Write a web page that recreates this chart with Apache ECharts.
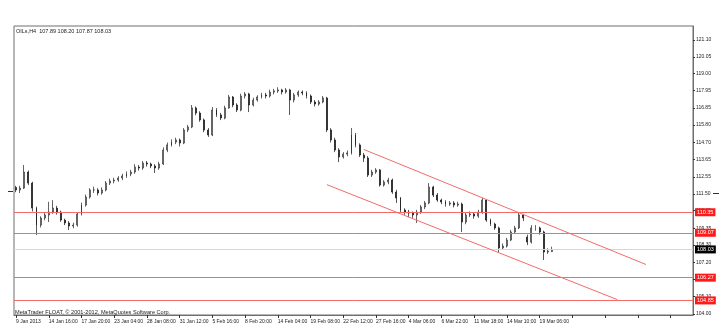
<!DOCTYPE html>
<html><head><meta charset="utf-8">
<script src="https://cdn.jsdelivr.net/npm/echarts@6/dist/echarts.min.js"></script>
<style>html,body{margin:0;padding:0;background:#fff}#c{width:723px;height:332px}</style>
</head><body><div id="c"></div>
<script>
// x-axis tick labels (one every 8 bars)
const xLabels = ["9 Jan 2013","14 Jan 16:00","17 Jan 20:00","23 Jan 04:00","28 Jan 08:00","31 Jan 12:00","5 Feb 16:00","8 Feb 20:00","14 Feb 04:00","19 Feb 08:00","22 Feb 12:00","27 Feb 16:00","4 Mar 06:00","6 Mar 22:00","11 Mar 18:00","14 Mar 10:00","19 Mar 06:00"];
// y-axis tick labels
const yLabels = [104.00,105.10,106.15,107.20,108.30,109.35,110.45,111.50,112.55,113.65,114.70,115.80,116.85,117.95,119.00,120.05,121.10];
// candles: [open, close, low, high]
const candles = [
[111.90,111.74,111.60,112.00],[111.74,111.86,111.55,112.00],[111.86,112.86,111.80,113.30],[112.86,112.17,112.05,112.95],
[112.17,110.61,110.40,112.25],[110.61,109.55,108.93,110.70],[109.55,109.99,109.40,110.10],[109.99,110.18,109.85,110.30],
[110.18,110.36,109.74,111.00],[110.36,110.61,110.25,111.11],[110.61,110.36,110.20,110.75],[110.36,109.86,109.75,110.45],
[109.86,109.68,109.55,109.95],[109.68,109.49,109.24,109.80],[109.49,109.55,109.35,109.70],[109.55,110.24,109.45,110.35],
[110.24,110.80,110.15,110.95],[110.80,111.30,110.70,111.45],[111.30,111.74,111.20,111.85],[111.74,111.74,111.55,111.95],
[111.74,111.55,111.40,111.85],[111.55,111.74,111.45,111.90],[111.74,112.17,111.65,112.30],[112.17,112.30,112.05,112.45],
[112.30,112.36,112.15,112.50],[112.36,112.49,112.25,112.60],[112.49,112.61,112.35,112.75],[112.61,112.74,112.50,112.90],
[112.74,112.86,112.60,113.00],[112.86,113.17,112.75,113.35],[113.17,113.11,112.95,113.30],[113.11,113.42,113.00,113.55],
[113.42,113.36,113.20,113.55],[113.36,113.24,113.10,113.45],[113.24,113.11,112.80,113.35],[113.11,113.36,113.00,113.50],
[113.36,114.23,113.30,114.40],[114.23,114.55,114.10,114.70],[114.55,114.73,114.45,114.90],[114.73,114.86,114.60,115.00],
[114.86,114.67,114.45,114.95],[114.67,115.48,114.60,115.60],[115.48,115.67,115.35,115.80],[115.67,116.86,115.60,117.04],
[116.86,116.54,116.40,116.95],[116.54,116.11,116.00,116.65],[116.11,115.48,115.35,116.20],[115.48,115.17,115.05,115.60],
[115.17,116.73,115.10,116.92],[116.73,116.42,116.30,116.85],[116.42,116.23,116.10,116.55],[116.23,116.86,116.15,117.00],
[116.86,117.54,116.80,117.67],[117.54,117.04,116.90,117.60],[117.04,116.73,116.60,117.15],[116.73,117.60,116.65,117.75],
[117.60,117.73,117.45,117.85],[117.73,117.04,116.60,117.80],[117.04,117.35,116.95,117.50],[117.35,117.54,117.25,117.65],
[117.54,117.67,117.45,117.80],[117.67,117.60,117.45,117.80],[117.60,117.85,117.50,118.00],[117.85,117.92,117.70,118.05],
[117.92,117.98,117.80,118.15],[117.98,117.85,117.70,118.05],[117.85,117.98,117.75,118.10],[117.98,117.35,116.42,118.05],
[117.35,117.67,117.20,117.80],[117.67,117.85,117.55,117.95],[117.85,117.79,117.65,117.95],[117.79,117.60,117.45,117.90],
[117.60,117.23,117.10,117.70],[117.23,117.10,116.95,117.35],[117.10,117.23,117.00,117.35],[117.23,117.48,117.15,117.60],
[117.48,115.48,115.35,117.55],[115.48,114.86,114.70,115.60],[114.86,114.23,114.10,115.00],[114.23,113.80,113.48,114.35],
[113.80,113.98,113.70,114.10],[113.98,114.05,113.85,114.20],[114.05,115.17,113.95,115.61],[115.17,114.55,114.40,115.30],
[114.55,113.92,113.80,114.65],[113.92,113.73,113.48,114.05],[113.73,112.67,112.55,113.85],[112.67,112.86,112.55,113.00],
[112.86,112.99,112.75,113.10],[112.99,112.05,111.95,113.05],[112.05,112.24,111.95,112.35],[112.24,112.36,112.10,112.50],
[112.36,111.61,111.50,112.45],[111.61,111.24,110.93,111.75],[111.24,110.49,110.35,111.30],[110.49,110.36,110.20,110.60],
[110.36,110.30,110.05,110.50],[110.30,110.18,110.00,110.40],[110.18,110.36,109.68,110.50],[110.36,110.68,110.25,110.80],
[110.68,110.93,110.55,111.05],[110.93,111.92,110.85,112.17],[111.92,111.42,111.30,112.00],[111.42,111.11,111.00,111.55],
[111.11,110.99,110.85,111.20],[110.99,110.86,110.70,111.10],[110.86,110.93,110.75,111.05],[110.93,110.80,110.65,111.05],
[110.80,110.86,110.70,111.00],[110.86,109.74,109.12,110.95],[109.74,110.18,109.60,110.30],[110.18,110.24,110.05,110.40],
[110.24,110.11,109.95,110.35],[110.11,110.36,110.00,110.50],[110.36,111.11,110.25,111.24],[111.11,109.86,109.75,111.15],
[109.86,109.61,109.50,109.95],[109.61,109.37,109.25,109.70],[109.37,108.12,107.87,109.45],[108.12,108.24,108.00,108.40],
[108.24,108.62,108.15,108.75],[108.62,109.12,108.55,109.25],[109.12,109.37,109.00,109.50],[109.37,110.18,109.30,110.30],
[110.18,109.99,109.80,110.25],[108.80,108.49,108.30,108.95],[108.49,109.37,108.40,109.55],[109.37,109.37,109.20,109.55],
[109.37,109.12,108.95,109.45],[109.12,107.87,107.37,109.20],[107.87,107.93,107.75,108.10],[107.89,108.03,107.87,108.20]
];
const totalSlots = 166; // bars + right shift space
// horizontal level lines
const redLevels = [110.35, 109.07, 106.27, 104.85];
const lastPrice = 108.03;
// trend channel endpoints: [barIndex, price]
const upperTrend = [[85, 114.27], [154, 107.09]];
const lowerTrend = [[76, 112.07], [147, 104.90]];
const title = "OILs,H4  107.89 108.20 107.87 108.03";
const footer = "MetaTrader FLOAT, \u00a9 2001-2012, MetaQuotes Software Corp.";

const cats = [];
for (let i = 0; i < totalSlots; i++) cats.push(String(i));
const FONT = 'Liberation Sans';
const red = '#f36b6b';

const markData = [];
redLevels.forEach(v => markData.push({
  yAxis: v, lineStyle: {color: red, width: 1, type: 'solid'},
  label: {show: true, position: 'end', formatter: v.toFixed(2), color: '#fff', backgroundColor: '#ff1a1a', fontSize: 5.5, fontFamily: FONT, padding: [1, 2], distance: 2}
}));
markData.push({
  yAxis: lastPrice, lineStyle: {color: '#d6d6d6', width: 1, type: 'solid'},
  label: {show: true, position: 'end', formatter: lastPrice.toFixed(2), color: '#fff', backgroundColor: '#000', fontSize: 5.5, fontFamily: FONT, padding: [1, 2], distance: 2}
});
[upperTrend, lowerTrend].forEach(t => markData.push([
  {coord: [t[0][0], t[0][1]], lineStyle: {color: red, width: 1, type: 'solid'}, label: {show: false}},
  {coord: [t[1][0], t[1][1]]}
]));

const chart = echarts.init(document.getElementById('c'), null, {renderer: 'canvas'});
chart.setOption({
  animation: false,
  backgroundColor: '#fff',
  textStyle: {fontFamily: FONT},
  grid: {left: 14, right: 30, top: 26, bottom: 17, show: true, borderColor: '#6e6e6e', borderWidth: 1, backgroundColor: '#fff'},
  title: [
    {text: title, left: 16, top: 28, padding: 0, textStyle: {fontSize: 5.5, fontWeight: 'normal', color: '#222', fontFamily: FONT}},
    {text: footer, left: 15, top: 309, padding: 0, textStyle: {fontSize: 5.6, fontWeight: 'normal', color: '#222', fontFamily: FONT}}
  ],
  graphic: [
    {type: 'line', shape: {x1: 8, y1: 191.5, x2: 13, y2: 191.5}, style: {stroke: '#333', lineWidth: 1}},
    {type: 'line', shape: {x1: 713, y1: 193.5, x2: 719, y2: 193.5}, style: {stroke: '#333', lineWidth: 1}}
  ],
  xAxis: {
    type: 'category', data: cats, boundaryGap: true,
    axisLine: {show: true, lineStyle: {color: '#6e6e6e'}},
    axisTick: {show: true, interval: 7, alignWithLabel: true, length: 3, lineStyle: {color: '#333'}},
    axisLabel: {show: true, interval: 7, align: 'left', margin: 4, fontSize: 5, color: '#222', fontFamily: FONT,
      formatter: (v, idx) => { const k = Number(v) / 8; return Number.isInteger(k) && xLabels[k] ? xLabels[k] : ''; }},
    splitLine: {show: false}
  },
  yAxis: {
    type: 'value', position: 'right', min: 103.94, max: 121.97, scale: true,
    axisLine: {show: true, lineStyle: {color: '#6e6e6e'}},
    axisTick: {show: true, length: 2, customValues: yLabels, lineStyle: {color: '#333'}},
    axisLabel: {show: true, customValues: yLabels, margin: 3, fontSize: 5, color: '#222', fontFamily: FONT, formatter: v => v.toFixed(2)},
    splitLine: {show: false}
  },
  series: [{
    type: 'candlestick', data: candles, barWidth: 1.4,
    itemStyle: {color: '#ffffff', color0: '#111111', borderColor: '#222222', borderColor0: '#111111', borderWidth: 0.7},
    markLine: {symbol: 'none', silent: true, animation: false, data: markData}
  }]
});
</script></body></html>
